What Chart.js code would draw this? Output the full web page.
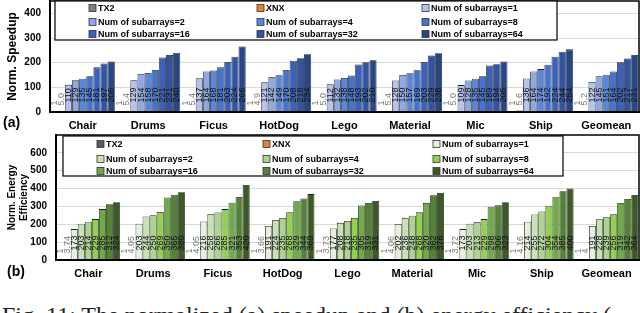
<!DOCTYPE html>
<html>
<head>
<meta charset="utf-8">
<script src="https://cdn.jsdelivr.net/npm/chart.js@4.4.1/dist/chart.umd.min.js"></script>
<style>
  body { margin: 0; width: 640px; height: 313px; overflow: hidden; background: #fff; position: relative; font-family: "Liberation Sans", Arial, sans-serif; }
  #wrapA { position: absolute; left: 0; top: 0; width: 640px; height: 136px; }
  #wrapB { position: absolute; left: 0; top: 134px; width: 640px; height: 150px; }
  .tag { position: absolute; font-weight: bold; font-size: 14px; color: #000; }
  #caption { position: absolute; left: 2px; top: 303px; font-family: "Liberation Serif", serif; font-size: 24px; line-height: 24px; white-space: nowrap; color: #222; }
</style>
</head>
<body>
<div id="wrapA"><canvas id="speedChart" width="640" height="136"></canvas></div>
<div id="wrapB"><canvas id="energyChart" width="640" height="150"></canvas></div>
<div class="tag" style="left:3px;top:114px">(a)</div>
<div class="tag" style="left:7px;top:263px">(b)</div>
<div id="caption">Fig. 11: The normalized (a) speedup and (b) energy efficiency (</div>
<script>
// categories + series names
const categories = ['Chair', 'Drums', 'Ficus', 'HotDog', 'Lego', 'Material', 'Mic', 'Ship', 'Geomean'];
const seriesNames = ['TX2', 'XNX', 'Num of subarrays=1', 'Num of subarrays=2', 'Num of subarrays=4',
  'Num of subarrays=8', 'Num of subarrays=16', 'Num of subarrays=32', 'Num of subarrays=64'];

// (a) normalized speedup
const tx2Speedup = [1, 1, 1, 1, 1, 1, 1, 1, 1];
const xnxSpeedup = [5.0, 5.4, 5.4, 4.9, 5.0, 5.4, 5.0, 5.6, 5.2];
const sub1Speedup = [110, 129, 137, 121, 112, 128, 109, 136, 122];
const sub2Speedup = [129, 154, 164, 142, 132, 150, 128, 164, 145];
const sub4Speedup = [135, 158, 168, 149, 138, 157, 135, 174, 151];
const sub8Speedup = [145, 170, 181, 170, 148, 169, 145, 192, 164];
const sub16Speedup = [181, 221, 203, 208, 193, 203, 189, 224, 202];
const sub32Speedup = [197, 231, 224, 218, 202, 229, 194, 244, 217];
const sub64Speedup = [205, 240, 266, 234, 210, 238, 205, 254, 231];

// (b) normalized energy efficiency
const tx2Energy = [1, 1, 1, 1, 1, 1, 1, 1, 1];
const xnxEnergy = [3.74, 4.05, 4.05, 3.66, 3.73, 4.06, 3.72, 4.16, 4];
const sub1Energy = [173, 203, 216, 191, 177, 202, 173, 214, 191];
const sub2Energy = [203, 244, 258, 224, 208, 236, 203, 255, 228];
const sub4Energy = [214, 250, 266, 235, 218, 248, 213, 272, 239];
const sub8Energy = [229, 269, 285, 268, 235, 268, 229, 304, 256];
const sub16Energy = [285, 350, 321, 329, 305, 320, 298, 354, 319];
const sub32Energy = [312, 365, 353, 344, 319, 362, 306, 385, 342];
const sub64Energy = [324, 380, 420, 369, 331, 376, 323, 400, 364];

// tick labels
const speedTicks = [0, 100, 200, 300, 400];
const energyTicks = [0, 100, 200, 300, 400, 500, 600];

const blueColors = ['#7f7f7f', '#ed7d31', '#b4c4ee', '#8fa8e4', '#5a87de', '#4574d0', '#3a62bb', '#3055a4', '#284788'];
const greenColors = ['#595959', '#ed7d31', '#e6f1dd', '#c8e2b5', '#acd490', '#92d050', '#6fab47', '#548236', '#3a5a26'];

const FONT = '"Liberation Sans", Arial, sans-serif';

// rotated value labels sitting near the bar base
const barLabels = {
  id: 'barLabels',
  afterDatasetsDraw(chart, args, opts) {
    const ctx = chart.ctx;
    ctx.save();
    ctx.font = '9px ' + FONT;
    ctx.textAlign = 'center';
    ctx.textBaseline = 'middle';
    chart.data.datasets.forEach((ds, i) => {
      chart.getDatasetMeta(i).data.forEach((bar, j) => {
        const txt = opts.format(ds.data[j], i);
        const w = ctx.measureText(txt).width;
        const gap = i < 2 ? 6 : 9;
        const cy = bar.base - gap - w / 2;
        ctx.save();
        ctx.translate(bar.x, cy);
        ctx.rotate(-Math.PI / 2);
        ctx.fillStyle = i < 2 ? '#777' : '#111';
        ctx.fillText(txt, 0, 0);
        ctx.restore();
      });
    });
    ctx.restore();
  }
};

// frame round the plot + 3x3 boxed legend
const boxLegend = {
  id: 'boxLegend',
  afterDraw(chart, args, o) {
    const ctx = chart.ctx;
    const a = chart.chartArea;
    ctx.save();
    ctx.strokeStyle = '#000';
    ctx.lineWidth = 1.5;
    ctx.strokeRect(a.left, a.top, a.right - a.left, a.bottom - a.top);

    ctx.fillStyle = '#fff';
    ctx.fillRect(o.x, o.y, o.w, o.h);
    ctx.lineWidth = 1.2;
    ctx.strokeRect(o.x, o.y, o.w, o.h);

    ctx.font = 'bold 9px ' + FONT;
    ctx.textBaseline = 'middle';
    ctx.textAlign = 'left';
    chart.data.datasets.forEach((ds, i) => {
      const cx = o.x + o.colX[i % 3];
      const cy = o.y + o.rowY[Math.floor(i / 3)];
      ctx.fillStyle = ds.backgroundColor;
      ctx.fillRect(cx, cy - 3.5, 7, 7);
      ctx.lineWidth = 0.8;
      ctx.strokeStyle = '#333';
      ctx.strokeRect(cx, cy - 3.5, 7, 7);
      ctx.fillStyle = '#000';
      ctx.fillText(ds.label, cx + 9, cy + 0.5);
    });
    ctx.restore();
  }
};

function makeDatasets(seriesData, colors) {
  return seriesData.map((d, i) => ({
    label: seriesNames[i],
    data: d,
    backgroundColor: colors[i],
    borderColor: '#222',
    borderWidth: 0.8,
    categoryPercentage: 0.98,
    barPercentage: 1.0
  }));
}

function makeChart(canvas, datasets, yMax, ticks, title, axisWidth, legendBox, fmt, titlePad) {
  return new Chart(canvas, {
    type: 'bar',
    data: { labels: categories, datasets: datasets },
    options: {
      responsive: false,
      animation: false,
      layout: { padding: { top: 1, right: 1, left: 0, bottom: 0 } },
      plugins: {
        legend: { display: false },
        tooltip: { enabled: false },
        barLabels: { format: fmt },
        boxLegend: legendBox
      },
      scales: {
        x: {
          grid: { display: false, drawTicks: false },
          border: { color: '#000', width: 2 },
          ticks: { color: '#000', padding: 7, font: { family: FONT, size: 11, weight: 'bold' } },
          afterFit: s => { s.height = 24; s.paddingLeft = 0; s.paddingRight = 0; }
        },
        y: {
          min: 0,
          max: yMax,
          afterBuildTicks: s => { s.ticks = ticks.map(v => ({ value: v })); },
          grid: { color: '#d9d9d9', drawTicks: false },
          border: { color: '#000', width: 2 },
          ticks: { color: '#000', padding: 9, font: { family: FONT, size: 10, weight: 'bold' } },
          title: {
            display: true,
            text: title,
            color: '#000',
            padding: { top: titlePad, bottom: 0 },
            font: { family: FONT, size: title.length === 2 ? 10 : 12, weight: 'bold' }
          },
          afterFit: s => { s.width = axisWidth; s.paddingTop = 0; s.paddingBottom = 0; }
        }
      }
    },
    plugins: [barLabels, boxLegend]
  });
}

makeChart(
  document.getElementById('speedChart'),
  makeDatasets([tx2Speedup, xnxSpeedup, sub1Speedup, sub2Speedup, sub4Speedup, sub8Speedup, sub16Speedup, sub32Speedup, sub64Speedup], blueColors),
  450, speedTicks, 'Norm. Speedup', 50,
  { x: 55, y: 1, w: 502, h: 39, colX: [34, 202, 367], rowY: [7, 21, 33] },
  (v, i) => i === 1 ? v.toFixed(1) : String(v),
  5
);

makeChart(
  document.getElementById('energyChart'),
  makeDatasets([tx2Energy, xnxEnergy, sub1Energy, sub2Energy, sub4Energy, sub8Energy, sub16Energy, sub32Energy, sub64Energy], greenColors),
  700, energyTicks, ['Norm. Energy', 'Efficiency'], 56,
  { x: 63, y: 2, w: 500, h: 40, colX: [34, 200, 370], rowY: [8, 23, 35] },
  (v, i) => String(v),
  6
);
</script>
</body>
</html>
